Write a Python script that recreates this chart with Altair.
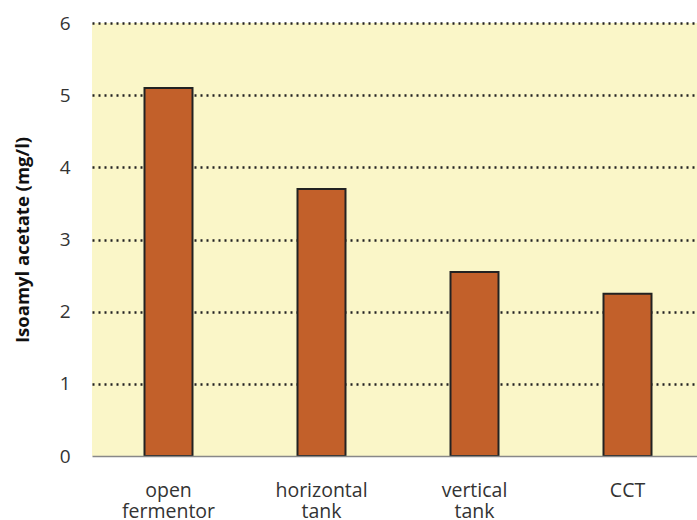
import altair as alt
import pandas as pd

categories = ["open fermentor", "horizontal tank", "vertical tank", "CCT"]
values = [5.1, 3.7, 2.55, 2.25]

df = pd.DataFrame({"category": categories, "value": values})

FONT = "Open Sans"

chart = alt.Chart(df).mark_bar(
    size=48, color="#C2602A", stroke="#222222", strokeWidth=2
).encode(
    x=alt.X("category:N", sort=categories,
            scale=alt.Scale(paddingInner=0, paddingOuter=0, range=[0, 612]),
            axis=alt.Axis(title=None, labelAngle=0, labelExpr="split(datum.label, ' ')",
                          labelFontSize=19.5, labelColor="#333333", labelFont=FONT,
                          labelPadding=25, ticks=False, domainColor="#888888",
                          domainWidth=1.5, grid=False, labelLineHeight=21, zindex=1)),
    y=alt.Y("value:Q", scale=alt.Scale(domain=[0, 6]),
            axis=alt.Axis(title="Isoamyl acetate (mg/l)", values=[0, 1, 2, 3, 4, 5, 6],
                          titleFont=FONT, titleFontSize=18.5, titleFontWeight="bold",
                          titleColor="#111111", titlePadding=27,
                          labelFont=FONT, labelFontSize=19, labelColor="#333333",
                          labelPadding=22, ticks=False, domain=False,
                          grid=True, gridColor="#222222", gridDash=[2, 4], gridWidth=2.5,
                          gridOpacity=alt.condition("datum.value == 0", alt.value(0), alt.value(1)))),
).properties(
    width=605, height=433,
    autosize=alt.AutoSizeParams(type="none"),
    padding={"left": 92, "top": 23, "right": 0, "bottom": 64},
).configure_view(
    fill="#FAF6C8", stroke=None
)

chart.save("out.html", embed_options={"renderer": "svg", "actions": False})
